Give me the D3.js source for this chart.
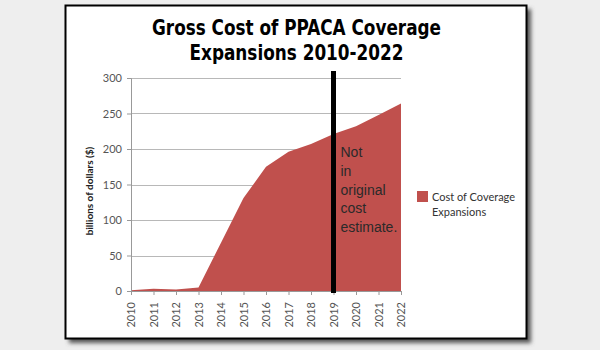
<!DOCTYPE html>
<html>
<head>
<meta charset="utf-8">
<script src="https://cdn.jsdelivr.net/npm/d3@7"></script>
<style>
  body { margin: 0; background: #eeeeee; }
  svg { display: block; }
  .tick text { font-family: Lato, "Open Sans", sans-serif; font-size: 11px; fill: #555; }
</style>
</head>
<body>
<script>
// data
var years = [2010, 2011, 2012, 2013, 2014, 2015, 2016, 2017, 2018, 2019, 2020, 2021, 2022];
var cost = [1, 3, 2, 5, 68, 131, 175, 196, 207, 221, 232, 248, 264];
var yTicks = [0, 50, 100, 150, 200, 250, 300];
var titleLines = ["Gross Cost of PPACA Coverage", "Expansions 2010-2022"];
var noteLines = ["Not", "in", "original", "cost", "estimate."];
var legendLines = ["Cost of Coverage", "Expansions"];
var cutoffYear = 2019;

var svg = d3.select("body").append("svg")
    .attr("width", 600)
    .attr("height", 350);

// drop shadow of the frame
var defs = svg.append("defs");
defs.append("filter").attr("id", "blur")
    .attr("x", "-10%").attr("y", "-10%").attr("width", "120%").attr("height", "120%")
    .append("feGaussianBlur").attr("stdDeviation", 2);

svg.append("rect")
    .attr("x", 69).attr("y", 9)
    .attr("width", 462).attr("height", 334)
    .attr("fill", "#555")
    .attr("filter", "url(#blur)");

svg.append("rect")
    .attr("x", 65.5).attr("y", 5.5)
    .attr("width", 461).attr("height", 333)
    .attr("fill", "#fff")
    .attr("stroke", "#000")
    .attr("stroke-width", 2);

// title
svg.append("g").selectAll("text")
    .data(titleLines)
    .enter().append("text")
    .attr("x", 296.5)
    .attr("y", function (d, i) { return 34.5 + i * 25.5; })
    .attr("text-anchor", "middle")
    .attr("textLength", function (d, i) { return i == 0 ? 289 : 214; })
    .attr("lengthAdjust", "spacingAndGlyphs")
    .style("font-family", "'Liberation Sans Narrow', 'DejaVu Sans Condensed', 'Liberation Sans', sans-serif")
    .style("font-weight", "bold")
    .style("font-size", "22px")
    .style("fill", "#000")
    .text(Object);

var margin = { top: 78, left: 131 },
    width = 270,
    height = 213,
    g = svg.append("g").attr("transform", "translate(" + margin.left + "," + margin.top + ")");

var x = d3.scaleLinear()
    .domain([years[0], years[years.length - 1]])
    .range([0, width]);

var y = d3.scaleLinear()
    .domain([0, 300])
    .range([height, 0]);

// gridlines
g.append("g")
    .selectAll("line")
    .data(yTicks.slice(1))
    .enter().append("line")
    .attr("x1", 0).attr("x2", width)
    .attr("y1", function (d) { return Math.round(y(d)) + 0.5; })
    .attr("y2", function (d) { return Math.round(y(d)) + 0.5; })
    .attr("stroke", "#b8b8b8")
    .attr("stroke-width", 1);

var data = years.map(function (yr, i) { return { year: yr, value: cost[i] }; });

var area = d3.area()
    .x(function (d) { return x(d.year); })
    .y0(height)
    .y1(function (d) { return y(d.value); });

g.append("path")
    .datum(data)
    .attr("fill", "#c0504d")
    .attr("d", area);

// axes
var yAxis = g.append("g")
    .call(d3.axisLeft(y).tickValues(yTicks).tickSize(4).tickPadding(5));
yAxis.select(".domain").attr("stroke", "#999");
yAxis.selectAll(".tick line").attr("stroke", "#999");

var xAxis = g.append("g")
    .attr("transform", "translate(0," + height + ")")
    .call(d3.axisBottom(x).tickValues(years).tickFormat(d3.format("d")).tickSize(4).tickSizeOuter(0));
xAxis.select(".domain").attr("stroke", "#999");
xAxis.selectAll(".tick line").attr("stroke", "#999");
xAxis.selectAll(".tick text")
    .attr("transform", "rotate(-90)")
    .attr("x", -11)
    .attr("y", 0)
    .attr("dy", "0.35em")
    .style("text-anchor", "end");

// y axis title
g.append("text")
    .attr("transform", "rotate(-90)")
    .attr("x", -(191 - margin.top))
    .attr("y", -38)
    .style("text-anchor", "middle")
    .style("font-family", "Lato, 'Open Sans', sans-serif")
    .style("font-weight", "bold")
    .style("font-size", "10px")
    .style("fill", "#222")
    .text("billions of dollars ($)");

// cutoff line
g.append("line")
    .attr("x1", x(cutoffYear)).attr("x2", x(cutoffYear))
    .attr("y1", -7).attr("y2", height + 2)
    .attr("stroke", "#000")
    .attr("stroke-width", 5);

g.append("g")
    .selectAll("text")
    .data(noteLines)
    .enter().append("text")
    .attr("x", x(cutoffYear) + 7)
    .attr("y", function (d, i) { return 157 - margin.top + i * 18.8; })
    .style("font-family", "'Liberation Sans', Arial, sans-serif")
    .style("font-size", "14px")
    .style("fill", "#2a2a2a")
    .text(Object);

// legend
var legend = svg.append("g").attr("transform", "translate(417,191)");
legend.append("rect")
    .attr("width", 11).attr("height", 11)
    .attr("fill", "#c0504d");
legend.selectAll("text")
    .data(legendLines)
    .enter().append("text")
    .attr("x", 15)
    .attr("y", function (d, i) { return 10 + i * 14.5; })
    .style("font-family", "Lato, 'Open Sans', sans-serif")
    .style("font-size", "11px")
    .style("fill", "#333")
    .text(Object);
</script>
</body>
</html>
